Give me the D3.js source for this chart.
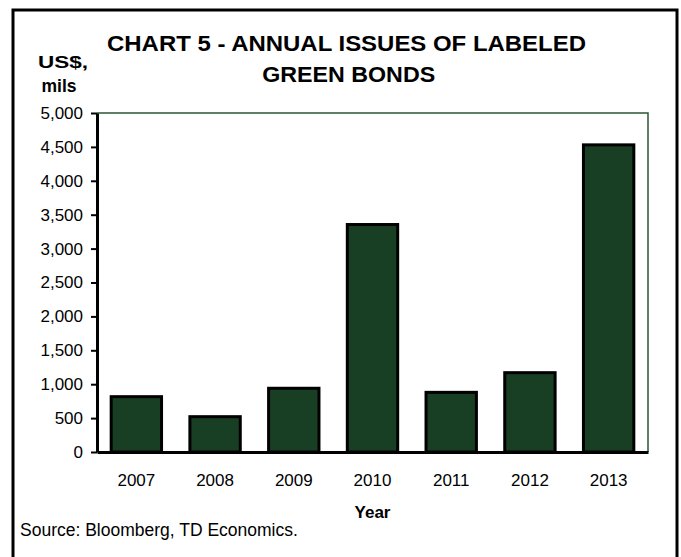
<!DOCTYPE html>
<html>
<head>
<meta charset="utf-8">
<script src="https://cdn.jsdelivr.net/npm/d3@7"></script>
<style>
  body { margin: 0; background: #fff; }
  svg { display: block; font-family: "Liberation Sans", Arial, sans-serif; }
</style>
</head>
<body>
<div id="chart"></div>
<script>
// data (US$ mils)
var years = ["2007", "2008", "2009", "2010", "2011", "2012", "2013"];
var issues = [816, 521, 940, 3355, 880, 1170, 4530];
var yTicks = [0, 500, 1000, 1500, 2000, 2500, 3000, 3500, 4000, 4500, 5000];

var width = 681, height = 557;
var plot = { left: 97, right: 648, top: 113, bottom: 452 };

var svg = d3.select("#chart")
    .append("svg")
    .attr("width", width)
    .attr("height", height);

// outer frame
svg.append("rect")
    .attr("x", 13)
    .attr("y", 10)
    .attr("width", 664)
    .attr("height", 560)
    .attr("fill", "none")
    .attr("stroke", "#000")
    .attr("stroke-width", 3);

var x = d3.scaleBand()
    .domain(years)
    .range([plot.left, plot.right])
    .paddingInner(0.36)
    .paddingOuter(0.18);

var y = d3.scaleLinear()
    .domain([0, 5000])
    .range([plot.bottom, plot.top]);

// thin green top / right edge of plot area
svg.append("path")
    .attr("d", "M" + plot.left + "," + y(5000) + "H" + plot.right + "V" + y(0))
    .attr("fill", "none")
    .attr("stroke", "#2b5534")
    .attr("stroke-width", 1.5);

// bars
svg.selectAll(".bar")
    .data(years.map(function (d, i) { return { year: d, value: issues[i] }; }))
    .enter()
    .append("rect")
    .attr("class", "bar")
    .attr("x", function (d) { return x(d.year); })
    .attr("y", function (d) { return y(d.value); })
    .attr("width", x.bandwidth())
    .attr("height", function (d) { return y(0) - y(d.value); })
    .attr("fill", "#183f24")
    .attr("stroke", "#000")
    .attr("stroke-width", 3);

// y axis
var yAxis = svg.append("g")
    .attr("transform", "translate(" + plot.left + ",0)")
    .call(d3.axisLeft(y).tickValues(yTicks).tickFormat(d3.format(",")).tickSize(6).tickPadding(8).tickSizeOuter(0));
yAxis.select(".domain").attr("stroke", "#000").attr("stroke-width", 3);
yAxis.selectAll(".tick line").attr("stroke", "#000").attr("stroke-width", 2);
yAxis.selectAll(".tick text")
    .style("font-size", "17px")
    .style("font-family", "'Liberation Sans', Arial, sans-serif")
    .attr("fill", "#000");

// x axis
var xAxis = svg.append("g")
    .attr("transform", "translate(0," + plot.bottom + ")")
    .call(d3.axisBottom(x).tickSize(0).tickPadding(22).tickSizeOuter(0));
xAxis.select(".domain").attr("stroke", "#000").attr("stroke-width", 3);
xAxis.selectAll(".tick text")
    .style("font-size", "17px")
    .style("font-family", "'Liberation Sans', Arial, sans-serif")
    .attr("fill", "#000");

// titles
svg.append("text")
    .attr("x", 346.5)
    .attr("y", 51)
    .attr("text-anchor", "middle")
    .attr("textLength", 479)
    .attr("lengthAdjust", "spacingAndGlyphs")
    .style("font-size", "22.5px")
    .style("font-weight", "bold")
    .text("CHART 5 - ANNUAL ISSUES OF LABELED");
svg.append("text")
    .attr("x", 348.7)
    .attr("y", 82)
    .attr("text-anchor", "middle")
    .attr("textLength", 173)
    .attr("lengthAdjust", "spacingAndGlyphs")
    .style("font-size", "22.5px")
    .style("font-weight", "bold")
    .text("GREEN BONDS");

svg.append("text")
    .attr("x", 63)
    .attr("y", 68)
    .attr("text-anchor", "middle")
    .attr("textLength", 50)
    .attr("lengthAdjust", "spacingAndGlyphs")
    .style("font-size", "17px")
    .style("font-weight", "bold")
    .text("US$,");
svg.append("text")
    .attr("x", 59)
    .attr("y", 92)
    .attr("text-anchor", "middle")
    .style("font-size", "17.5px")
    .style("font-weight", "bold")
    .text("mils");

svg.append("text")
    .attr("x", (plot.left + plot.right) / 2)
    .attr("y", 518)
    .attr("text-anchor", "middle")
    .style("font-size", "17px")
    .style("font-weight", "bold")
    .text("Year");

svg.append("text")
    .attr("x", 20)
    .attr("y", 536)
    .style("font-size", "17.5px")
    .text("Source: Bloomberg, TD Economics.");
</script>
</body>
</html>
